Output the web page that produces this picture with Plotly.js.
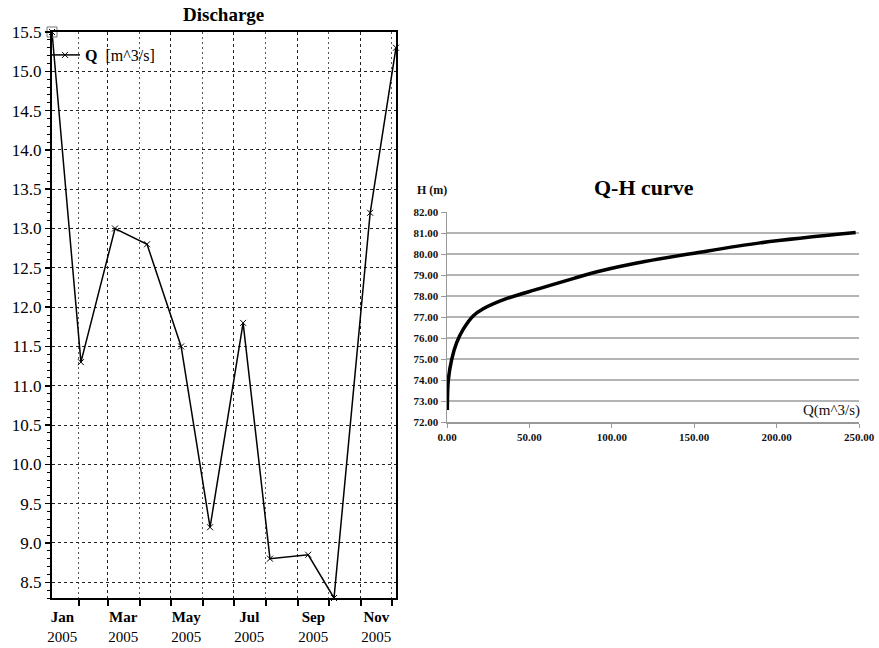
<!DOCTYPE html>
<html>
<head>
<meta charset="utf-8">
<script src="https://cdn.plot.ly/plotly-3.0.1.min.js"></script>
<style>html,body{margin:0;padding:0;background:#fff;}#chart{width:879px;height:648px;}</style>
</head>
<body>
<div id="chart"></div>
<script>
// Discharge time series (2005)
const qDates = ['2005-01-06','2005-02-03','2005-03-08','2005-04-08','2005-05-11','2005-06-08',
                '2005-07-10','2005-08-05','2005-09-11','2005-10-06','2005-11-10','2005-12-05'];
const qValues = [15.5, 11.3, 13.0, 12.8, 11.5, 9.2, 11.8, 8.8, 8.85, 8.3, 13.2, 15.3];
const seriesName = '<b>Q</b>  [m^3/s]';

// x-axis labels (centred on month) and grid positions (month starts)
const monthLabelDates = ['2005-01-16','2005-03-16','2005-05-16','2005-07-16','2005-09-16','2005-11-16'];
const monthLabelText = ['<b>Jan</b><br>2005','<b>Mar</b><br>2005','<b>May</b><br>2005','<b>Jul</b><br>2005','<b>Sep</b><br>2005','<b>Nov</b><br>2005'];
const majorMonthStarts = ['2005-03-01','2005-05-01','2005-07-01','2005-09-01','2005-11-01'];
const minorMonthStarts = ['2005-02-01','2005-04-01','2005-06-01','2005-08-01','2005-10-01','2005-12-01'];

// Q-H rating curve
const qhFlow  = [0.2, 0.8, 2.8, 5.8, 9.9, 16, 22, 36, 56, 77, 93, 120, 150, 190, 248];
const qhStage = [72.57, 74.0, 74.96, 75.77, 76.42, 77.06, 77.39, 77.87, 78.35, 78.84, 79.19, 79.64, 80.04, 80.53, 81.02];
const qhXTicks = [0, 50, 100, 150, 200, 250];
const qhYTicks = [72, 73, 74, 75, 76, 77, 78, 79, 80, 81, 82];

const serif = 'Liberation Serif';

const traces = [
  {
    x: qDates, y: qValues, xaxis: 'x', yaxis: 'y', type: 'scatter', mode: 'lines+markers',
    name: seriesName,
    line: {color: '#000', width: 1.5},
    marker: {symbol: 'x-thin', size: 6, color: '#000', line: {color: '#000', width: 1}},
    cliponaxis: false
  },
  {
    x: [qDates[0]], y: [qValues[0]], xaxis: 'x', yaxis: 'y', type: 'scatter', mode: 'markers',
    showlegend: false, hoverinfo: 'skip', cliponaxis: false,
    marker: {symbol: 'square-open', size: 10, color: '#777', line: {color: '#777', width: 1}}
  },
  {
    x: qDates, y: qValues, xaxis: 'x2', yaxis: 'y', type: 'scatter', mode: 'lines',
    showlegend: false, hoverinfo: 'skip', line: {color: 'rgba(0,0,0,0)', width: 0}
  },
  {
    x: qhFlow, y: qhStage, xaxis: 'x3', yaxis: 'y3', type: 'scatter', mode: 'lines',
    showlegend: false, line: {color: '#000', width: 3.5, shape: 'spline', smoothing: 1}
  }
];

const xRange = [qDates[0], qDates[qDates.length - 1]];
const yRange = [Math.min(...qValues), Math.max(...qValues)];

const layout = {
  width: 879, height: 648,
  margin: {l: 0, r: 0, t: 0, b: 0},
  paper_bgcolor: '#fff', plot_bgcolor: '#fff',
  font: {family: serif, color: '#000', size: 15},
  showlegend: true,
  legend: {
    x: 45/879, y: 1 - 38/648, xanchor: 'left', yanchor: 'top',
    bgcolor: 'rgba(0,0,0,0)', borderwidth: 0, itemwidth: 30,
    font: {family: serif, size: 16, color: '#000'}, tracegroupgap: 0
  },
  xaxis: {
    domain: [52/879, 396/879], anchor: 'y', type: 'date', range: xRange,
    tickmode: 'array', tickvals: majorMonthStarts, showticklabels: false,
    ticks: 'outside', ticklen: 6, tickcolor: '#000', tickwidth: 1.5,
    showgrid: true, gridcolor: '#222', griddash: '3px,3px', gridwidth: 1,
    minor: {tickmode: 'array', tickvals: minorMonthStarts, ticks: 'outside', ticklen: 6,
            tickcolor: '#000', tickwidth: 1.5, showgrid: true, gridcolor: '#555', griddash: '2px,3px', gridwidth: 1},
    showline: true, linecolor: '#000', linewidth: 2, mirror: true, zeroline: false
  },
  xaxis2: {
    domain: [52/879, 396/879], anchor: 'y', overlaying: 'x', type: 'date', range: xRange,
    tickmode: 'array', tickvals: monthLabelDates, ticktext: monthLabelText,
    ticks: '', showgrid: false, showline: false, zeroline: false, side: 'bottom',
    tickfont: {family: serif, size: 15, color: '#000'}, ticklabelstandoff: 8
  },
  yaxis: {
    domain: [1 - 598/648, 1 - 32/648], anchor: 'x', range: yRange,
    dtick: 0.5, tick0: 8.5, tickformat: '.1f',
    ticks: 'outside', ticklen: 5, tickcolor: '#000', tickwidth: 1.5,
    tickfont: {family: serif, size: 17, color: '#000'},
    showgrid: true, gridcolor: '#222', griddash: '3px,3px', gridwidth: 1,
    minor: {dtick: 0.1, ticks: 'outside', ticklen: 3, tickcolor: '#000', tickwidth: 1, showgrid: false},
    showline: true, linecolor: '#000', linewidth: 2, mirror: true, zeroline: false
  },
  xaxis3: {
    domain: [447/879, 859/879], anchor: 'y3', range: [0, 250],
    tickmode: 'array', tickvals: qhXTicks, tickformat: '.2f',
    ticks: 'outside', ticklen: 4, tickcolor: '#999', tickwidth: 1,
    tickfont: {family: serif, size: 11, color: '#111', weight: 'bold'},
    showgrid: false, showline: true, linecolor: '#999', linewidth: 1.5, zeroline: false
  },
  yaxis3: {
    domain: [1 - 422/648, 1 - 212/648], anchor: 'x3', range: [72, 82],
    tickmode: 'array', tickvals: qhYTicks, tickformat: '.2f',
    ticks: 'outside', ticklen: 5, tickcolor: '#999', tickwidth: 1,
    tickfont: {family: serif, size: 11, color: '#111', weight: 'bold'},
    showgrid: true, gridcolor: '#b4b4b4', gridwidth: 2,
    showline: true, linecolor: '#999', linewidth: 1.5, zeroline: false
  },
  annotations: [
    {text: '<b>Discharge</b>', xref: 'paper', yref: 'paper', x: 224/879, y: 1 - 15/648,
     xanchor: 'center', yanchor: 'middle', showarrow: false, font: {family: serif, size: 19, color: '#000'}},
    {text: '<b>Q-H curve</b>', xref: 'paper', yref: 'paper', x: 644/879, y: 1 - 187/648,
     xanchor: 'center', yanchor: 'middle', showarrow: false, font: {family: serif, size: 22, color: '#000'}},
    {text: '<b>H (m)</b>', xref: 'paper', yref: 'paper', x: 432/879, y: 1 - 190/648,
     xanchor: 'center', yanchor: 'middle', showarrow: false, font: {family: serif, size: 12, color: '#111'}},
    {text: 'Q(m^3/s)', xref: 'paper', yref: 'paper', x: 862/879, y: 1 - 410/648,
     xanchor: 'right', yanchor: 'middle', showarrow: false, font: {family: serif, size: 15, color: '#111'}}
  ]
};

Plotly.newPlot('chart', traces, layout, {staticPlot: true, displayModeBar: false});
</script>
</body>
</html>
